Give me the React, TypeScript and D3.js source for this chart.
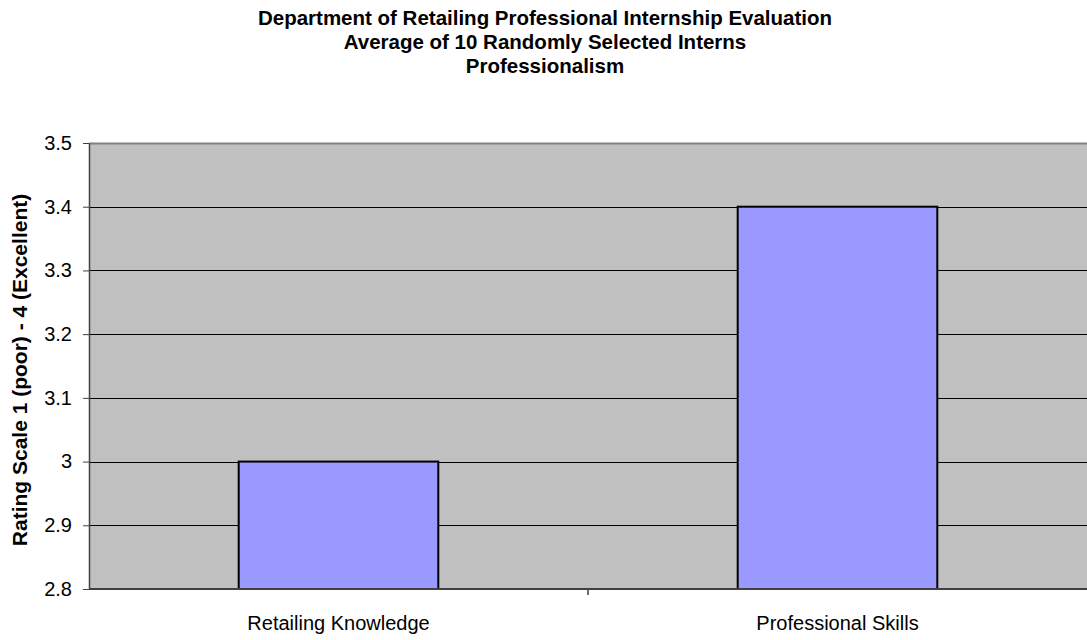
import { useEffect, useRef } from "react"
import * as d3 from "d3"

// Chart data
const categories = ["Retailing Knowledge", "Professional Skills"]
const ratings = [3.0, 3.4]
const yTicks = [2.8, 2.9, 3.0, 3.1, 3.2, 3.3, 3.4, 3.5]
const titleLines = [
    "Department of Retailing Professional Internship Evaluation",
    "Average of 10 Randomly Selected Interns",
    "Professionalism",
]
const yAxisTitle = "Rating Scale 1 (poor) - 4 (Excellent)"

export default function App() {
    const svgRef = useRef<SVGSVGElement | null>(null)
    const width = 1087
    const height = 640

    useEffect(() => {
        const svg = d3.select(svgRef.current)
        svg.selectAll("*").remove()

        const margin = { top: 143, right: 0, bottom: 51, left: 89 }
        const plotW = width - margin.left - margin.right
        const plotH = height - margin.top - margin.bottom

        const x = d3.scaleBand<string>()
            .domain(categories)
            .range([margin.left, margin.left + plotW])
            .paddingInner(0.6)
            .paddingOuter(0.3)

        const xOuter = d3.scaleBand<string>()
            .domain(categories)
            .range([margin.left, margin.left + plotW])

        const y = d3.scaleLinear()
            .domain([2.8, 3.5])
            .range([margin.top + plotH, margin.top])

        const font = "Arial, 'Liberation Sans', sans-serif"

        // background
        svg.append("rect")
            .attr("x", margin.left)
            .attr("y", margin.top)
            .attr("width", plotW)
            .attr("height", plotH)
            .attr("fill", "#c0c0c0")

        // gridlines
        svg.append("g")
            .selectAll("line")
            .data(yTicks.slice(1))
            .join("line")
            .attr("x1", margin.left)
            .attr("x2", margin.left + plotW)
            .attr("y1", d => Math.round(y(d)) + 0.5)
            .attr("y2", d => Math.round(y(d)) + 0.5)
            .attr("stroke", d => d === 3.5 ? "#808080" : "#000")
            .attr("stroke-width", d => d === 3.5 ? 2 : 1)

        // bars
        svg.append("g")
            .selectAll("rect")
            .data(categories)
            .join("rect")
            .attr("x", d => x(d)!)
            .attr("y", (_, i) => y(ratings[i]))
            .attr("width", x.bandwidth())
            .attr("height", (_, i) => y(2.8) - y(ratings[i]))
            .attr("fill", "#9999ff")
            .attr("stroke", "#000")
            .attr("stroke-width", 2)

        // y axis
        const yAxis = svg.append("g")
            .attr("transform", `translate(${margin.left},0)`)
            .call(d3.axisLeft(y).tickValues(yTicks).tickSize(6).tickSizeOuter(0)
                .tickFormat(d => d3.format("")(+(+d).toFixed(1))))
        yAxis.select(".domain").attr("stroke", "#404040").attr("stroke-width", 1.5)
        yAxis.selectAll(".tick line").attr("stroke", "#404040")
        yAxis.selectAll(".tick text")
            .attr("font-family", font)
            .attr("font-size", 20)
            .attr("fill", "#000")
            .attr("x", -17)

        // x axis
        const xAxisG = svg.append("g")
            .attr("transform", `translate(0,${margin.top + plotH})`)
        xAxisG.append("line")
            .attr("x1", margin.left)
            .attr("x2", margin.left + plotW)
            .attr("stroke", "#404040")
            .attr("stroke-width", 2)
        xAxisG.selectAll("line.tick")
            .data(categories.slice(1))
            .join("line")
            .attr("class", "tick")
            .attr("x1", d => xOuter(d)!)
            .attr("x2", d => xOuter(d)!)
            .attr("y1", 0)
            .attr("y2", 6)
            .attr("stroke", "#404040")
            .attr("stroke-width", 1.5)
        xAxisG.selectAll("text")
            .data(categories)
            .join("text")
            .attr("x", d => xOuter(d)! + xOuter.bandwidth() / 2)
            .attr("y", 41)
            .attr("text-anchor", "middle")
            .attr("font-family", font)
            .attr("font-size", 20)
            .text(d => d)

        // y title
        svg.append("text")
            .attr("transform", `translate(27,370) rotate(-90)`)
            .attr("text-anchor", "middle")
            .attr("font-family", font)
            .attr("font-size", 21)
            .attr("font-weight", "bold")
            .text(yAxisTitle)

        // title
        svg.append("g")
            .selectAll("text")
            .data(titleLines)
            .join("text")
            .attr("x", 545)
            .attr("y", (_, i) => 25 + i * 24)
            .attr("text-anchor", "middle")
            .attr("font-family", font)
            .attr("font-size", 20.5)
            .attr("font-weight", "bold")
            .text(d => d)
    }, [])

    return (
        <svg
            ref={svgRef}
            width={width}
            height={height}
            style={{ position: "absolute", left: 0, top: 0, background: "#fff" }}
        />
    )
}
